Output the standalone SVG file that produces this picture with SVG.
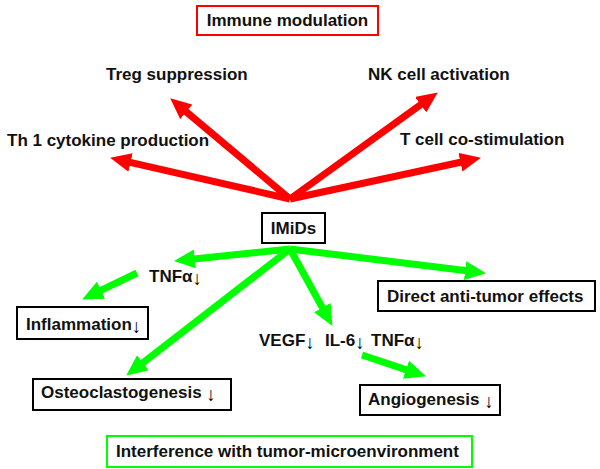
<svg xmlns="http://www.w3.org/2000/svg" width="600" height="469" viewBox="0 0 600 469">
<style>
text{font-family:"Liberation Sans",Arial,sans-serif;font-weight:bold;font-size:17px;fill:#111}
.box{fill:#fff;stroke:#000;stroke-width:2}
.rbox{fill:#fff;stroke:#ff0000;stroke-width:2}
.gbox{fill:#fff;stroke:#00ff00;stroke-width:2}
.red{stroke:#ff0000;stroke-width:7;fill:none}
.grn{stroke:#00ff00;stroke-width:7;fill:none}
.dn{font-size:19px;baseline-shift:-3px;fill:#000}
</style>
<defs>
<marker id="ar" markerUnits="userSpaceOnUse" markerWidth="21" markerHeight="19" refX="6" refY="9.5" orient="auto"><path d="M0,0 L21,9.5 L0,19 z" fill="#ff0000"/></marker>
<marker id="ag" markerUnits="userSpaceOnUse" markerWidth="21" markerHeight="19" refX="6" refY="9.5" orient="auto"><path d="M0,0 L21,9.5 L0,19 z" fill="#00ff00"/></marker>
</defs>
<rect width="600" height="469" fill="#fff"/>
<g id="connectors">
<line class="red" x1="290" y1="199" x2="124.7" y2="161.1" marker-end="url(#ar)"/>
<line class="red" x1="290" y1="199" x2="181.7" y2="108" marker-end="url(#ar)"/>
<line class="red" x1="290" y1="199" x2="425.6" y2="101.2" marker-end="url(#ar)"/>
<line class="red" x1="290" y1="199" x2="466.3" y2="161" marker-end="url(#ar)"/>
<line class="grn" x1="290" y1="249" x2="188.9" y2="259.5" marker-end="url(#ag)"/>
<line class="grn" x1="290" y1="249" x2="138.1" y2="366.4" marker-end="url(#ag)"/>
<line class="grn" x1="290" y1="249" x2="325.2" y2="312.8" marker-end="url(#ag)"/>
<line class="grn" x1="290" y1="249" x2="471.1" y2="271.3" marker-end="url(#ag)"/>
<line class="grn" x1="137" y1="273" x2="95.6" y2="292.9" marker-end="url(#ag)"/>
<line class="grn" x1="362" y1="355" x2="411.7" y2="371.6" marker-end="url(#ag)"/>
</g>
<g id="immune"><rect class="rbox" x="197" y="6" width="181" height="29"/><text x="287.5" y="26" text-anchor="middle">Immune modulation</text></g>
<g id="treg"><text x="106" y="80">Treg suppression</text></g>
<g id="nk"><text x="368" y="80">NK cell activation</text></g>
<g id="th1"><text x="7" y="146">Th 1 cytokine production</text></g>
<g id="tcell"><text x="400" y="145">T cell co-stimulation</text></g>
<g id="imids"><rect class="box" x="262" y="213" width="63" height="30"/><text x="293.5" y="234" text-anchor="middle">IMiDs</text></g>
<g id="tnf1"><text x="149" y="282">TNFα<tspan class="dn">↓</tspan></text></g>
<g id="inflammation"><rect class="box" x="17" y="307" width="131" height="32"/><text x="26" y="330">Inflammation<tspan class="dn">↓</tspan></text></g>
<g id="direct"><rect class="box" x="378" y="281" width="217" height="30"/><text x="387" y="302">Direct anti-tumor effects</text></g>
<g id="cytokines"><text y="346"><tspan x="259">VEGF</tspan><tspan class="dn">↓</tspan><tspan x="325">IL-6</tspan><tspan class="dn">↓</tspan><tspan x="371">TNFα</tspan><tspan class="dn">↓</tspan></text></g>
<g id="angio"><rect class="box" x="360" y="385" width="140" height="30"/><text x="368" y="405">Angiogenesis <tspan class="dn">↓</tspan></text></g>
<g id="osteo"><rect class="box" x="33" y="379" width="198" height="31"/><text x="41" y="398">Osteoclastogenesis <tspan class="dn">↓</tspan></text></g>
<g id="interference"><rect class="gbox" x="107" y="436" width="365" height="31"/><text x="116" y="457">Interference with tumor-microenvironment</text></g>
</svg>
